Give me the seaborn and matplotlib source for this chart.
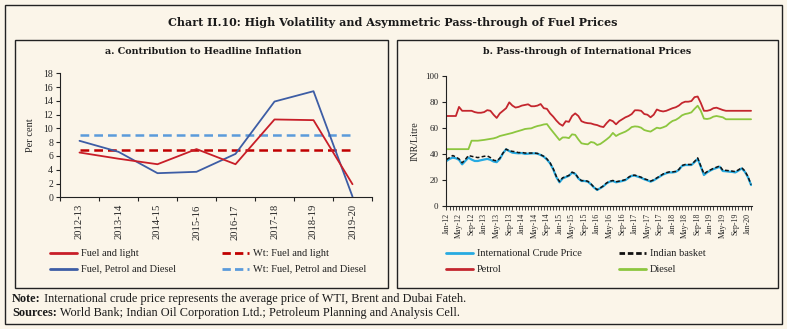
import matplotlib
matplotlib.use("Agg")
import matplotlib.pyplot as plt
import seaborn as sns
import pandas as pd
import numpy as np
from matplotlib.patches import Rectangle
from matplotlib.lines import Line2D

# ---------------- data ----------------
years = ["2012-13", "2013-14", "2014-15", "2015-16", "2016-17", "2017-18", "2018-19", "2019-20"]
fuel_light = [6.5, 5.6, 4.8, 7.0, 4.8, 11.3, 11.2, 1.9]
fuel_petrol_diesel = [8.2, 6.6, 3.5, 3.7, 6.3, 13.9, 15.4, 0.1]
wt_fuel_light = [6.8, 6.8, 6.8, 6.8, 6.8, 6.8, 6.8, 6.8]
wt_fuel_petrol_diesel = [9.05, 9.05, 9.05, 9.05, 9.05, 9.05, 9.05, 9.05]

month_labels = ["Jan-12", "May-12", "Sep-12", "Jan-13", "May-13", "Sep-13", "Jan-14", "May-14",
                "Sep-14", "Jan-15", "May-15", "Sep-15", "Jan-16", "May-16", "Sep-16", "Jan-17",
                "May-17", "Sep-17", "Jan-18", "May-18", "Sep-18", "Jan-19", "May-19", "Sep-19", "Jan-20"]

petrol = [69, 69, 69, 69, 76, 73, 73, 73, 73, 72,
          71.5, 71.5, 72, 73.5, 73, 70, 67.5, 71, 73, 75,
          79.5, 77, 75.5, 76, 77, 77.5, 78, 76.5, 76.5, 77,
          78.2, 75, 74.5, 71, 68.5, 65.5, 63, 61.5, 65, 64.5,
          69, 71, 69, 65, 64, 63.5, 63.3, 62.5, 62, 61,
          60.5, 63.5, 66, 65, 62.6, 65, 66.5, 68, 69, 70.5,
          73.4, 73.4, 73, 70.5, 70, 68, 70, 74, 73, 72.5,
          73, 74, 75, 75.7, 77, 79, 80, 80, 80.5, 83.5,
          84, 79, 73, 73, 73.6, 75, 75.4, 74.5, 73.6, 73,
          73, 73, 73, 73, 73, 73, 73, 73]

diesel = [43.5, 43.5, 43.5, 43.5, 43.5, 43.5, 43.5, 43.5, 50, 50,
          50, 50.3, 50.6, 51, 51.4, 51.8, 52.5, 53.6, 54.2, 54.8,
          55.4, 56, 56.8, 57.5, 58.2, 59, 59.3, 59.5, 60.5, 61.3,
          61.8, 62.5, 62.8, 59.5, 56.5, 53.5, 50.5, 52.5, 52.5, 52,
          54.9, 54.5, 51, 48, 47.5, 47.2, 49, 48.5, 46.7, 47.5,
          49.2, 51, 53, 56, 53.6, 55, 56, 57, 58.5, 60.5,
          61, 60.8, 60, 58.2, 57.5, 57, 58.5, 60, 59.5, 60.3,
          61.3, 63.5, 65.2, 66, 67.5, 69.5, 70.5, 71, 71.8, 74.5,
          76.9, 73, 67, 66.7, 67.2, 68.5, 69, 68.5, 68, 66.5,
          66.5, 66.5, 66.5, 66.5, 66.5, 66.5, 66.5, 66.5]

crude = [34.4, 36, 37, 36.5, 35.3, 31.8, 34.4, 37, 35.5, 34.4,
         34.4, 35, 35.5, 36, 35.3, 34, 33.5, 36, 40.3, 43.4,
         42, 40.8, 40.5, 40.3, 40.5, 39.8, 40, 40.2, 40.3, 40,
         39, 37.7, 35.5, 32.6, 28, 22, 18, 21, 22, 23,
         25.4, 24.5, 21, 19, 19, 18.5, 16.5, 14, 12.1, 13.5,
         15, 17.2, 18.5, 19, 18, 18.5, 19, 19.7, 21.5, 23,
         23.1, 22.3, 21.5, 20.3, 19.5, 18.5, 19.5, 21, 22.5, 24,
         25, 25.6, 25.6, 26, 27.5, 30.5, 31.3, 31.3, 31.3, 33.5,
         36, 30, 23.6, 25.6, 27, 28.2, 29, 30, 26.7, 26.5,
         26.2, 26, 25.6, 27, 28.7, 26.2, 22, 15.9]

indian_basket = [35.5, 37, 38.6, 37.5, 36, 33, 35.5, 38.6, 38, 37.5,
                 37, 37.5, 38, 38.3, 37, 35, 34.5, 36.5, 40.5, 43.5,
                 42.3, 41.8, 41.5, 40.8, 41, 40.5, 40.5, 40.5, 40.5, 40.2,
                 39.2, 38, 36, 33, 28.5, 22.5, 18.5, 21.5, 22.3, 23.3,
                 25.8, 24.8, 21.3, 19.3, 19.3, 18.8, 16.8, 14.2, 12.3, 13.7,
                 15.3, 17.5, 18.8, 19.4, 18.4, 18.9, 19.4, 20.1, 21.9, 23.4,
                 23.5, 22.7, 21.9, 20.7, 19.9, 18.9, 19.9, 21.4, 22.9, 24.4,
                 25.4, 26, 26, 26.4, 27.9, 30.9, 31.7, 31.7, 31.7, 34,
                 36.8, 30.5, 24.5, 26.2, 27.5, 28.7, 29.6, 30.6, 27.3, 27.2,
                 26.9, 26.6, 26.2, 27.6, 29.3, 26.8, 22.5, 16.2]

# ---------------- style ----------------
BG = "#FBF5E9"
W, H = 787, 329
sns.set_theme(style="ticks")
plt.rcParams["font.family"] = ["Liberation Serif", "DejaVu Serif"]
plt.rcParams["axes.facecolor"] = BG
plt.rcParams["figure.facecolor"] = BG

fig = plt.figure(figsize=(W / 100, H / 100), dpi=100)


def fx(px):
    return px / W


def fy(py):
    return 1 - py / H


# borders
fig.patches.append(Rectangle((fx(5), fy(324)), fx(777), (319) / H, transform=fig.transFigure,
                             fill=False, lw=1.0, ec="#222222"))
fig.patches.append(Rectangle((fx(15), fy(288)), fx(373), (248) / H, transform=fig.transFigure,
                             fill=False, lw=1.0, ec="#222222"))
fig.patches.append(Rectangle((fx(397), fy(288)), fx(381), (248) / H, transform=fig.transFigure,
                             fill=False, lw=1.0, ec="#222222"))

fig.text(fx(393), fy(22), "Chart II.10: High Volatility and Asymmetric Pass-through of Fuel Prices",
         ha="center", va="center", fontsize=8.0, fontweight="bold", family="DejaVu Serif", color="#1a1a1a")
fig.text(fx(203), fy(52), "a. Contribution to Headline Inflation", ha="center", va="center",
         fontsize=6.8, fontweight="bold", family="DejaVu Serif", color="#1a1a1a")
fig.text(fx(587), fy(52), "b. Pass-through of International Prices", ha="center", va="center",
         fontsize=6.8, fontweight="bold", family="DejaVu Serif", color="#1a1a1a")

# ---------------- panel a ----------------
ax1 = fig.add_axes([fx(60), fy(197.3), fx(372 - 60), (197.3 - 73.3) / H])
xa = np.arange(len(years))
dfa = pd.DataFrame({"x": xa, "fl": fuel_light, "fpd": fuel_petrol_diesel,
                    "wfl": wt_fuel_light, "wfpd": wt_fuel_petrol_diesel})
RED = "#C81E28"
DBLUE = "#3D5DA5"
LBLUE = "#5B9BDB"
sns.lineplot(data=dfa, x="x", y="wfpd", ax=ax1, color=LBLUE, lw=1.8, linestyle=(0, (3.5, 2)))
sns.lineplot(data=dfa, x="x", y="wfl", ax=ax1, color="#C00000", lw=1.8, linestyle=(0, (3.5, 2)))
sns.lineplot(data=dfa, x="x", y="fpd", ax=ax1, color=DBLUE, lw=1.3)
sns.lineplot(data=dfa, x="x", y="fl", ax=ax1, color=RED, lw=1.3)
ax1.set_xlim(-0.5, 7.5)
ax1.set_ylim(0, 18)
ax1.set_yticks(np.arange(0, 19, 2))
ax1.set_xticks(np.arange(-0.5, 8.0, 1.0))
ax1.set_xticklabels([])
ax1.set_xticks(xa, minor=True)
ax1.set_xticklabels(years, minor=True, rotation=90, fontsize=7.6)
ax1.tick_params(axis="x", which="minor", length=0, pad=5)
ax1.tick_params(axis="x", which="major", length=3, width=0.8, color="#222222")
ax1.tick_params(axis="y", labelsize=7, length=3, width=0.8, pad=2, color="#222222")
ax1.set_xlabel("")
ax1.set_ylabel("Per cent", fontsize=7.5, labelpad=6)
for s in ["top", "right"]:
    ax1.spines[s].set_visible(False)
for s in ["left", "bottom"]:
    ax1.spines[s].set_linewidth(0.8)
    ax1.spines[s].set_color("#222222")

# legend (manual, figure coordinates)
def leg_entry(x0, y0, color, ls, text, lw=2.0):
    fig.lines.append(Line2D([fx(x0), fx(x0 + 27)], [fy(y0), fy(y0)], transform=fig.transFigure,
                            color=color, lw=lw, linestyle=ls))
    fig.text(fx(x0 + 31), fy(y0), text, ha="left", va="center", fontsize=7.5, color="#222222")

leg_entry(50, 253, RED, "-", "Fuel and light")
leg_entry(50, 269, DBLUE, "-", "Fuel, Petrol and Diesel")
leg_entry(222, 253, "#C00000", (0, (3, 1.5)), "Wt: Fuel and light")
leg_entry(222, 269, LBLUE, (0, (3, 1.5)), "Wt: Fuel, Petrol and Diesel")

# ---------------- panel b ----------------
ax2 = fig.add_axes([fx(445.5), fy(205.7), fx(752 - 445.5), (205.7 - 75.7) / H])
mb = np.arange(len(petrol))
dfb = pd.DataFrame({"m": mb, "petrol": petrol, "diesel": diesel, "crude": crude, "basket": indian_basket})
CBLUE = "#27AAE1"
PRED = "#C4262E"
DGREEN = "#8DC63F"
sns.lineplot(data=dfb, x="m", y="petrol", ax=ax2, color=PRED, lw=1.3)
sns.lineplot(data=dfb, x="m", y="diesel", ax=ax2, color=DGREEN, lw=1.3)
sns.lineplot(data=dfb, x="m", y="crude", ax=ax2, color=CBLUE, lw=1.6)
sns.lineplot(data=dfb, x="m", y="basket", ax=ax2, color="#111111", lw=1.1, linestyle=(0, (2.5, 1.5)))
ax2.set_xlim(-0.3, 97.3)
ax2.set_ylim(0, 100)
ax2.set_yticks(np.arange(0, 101, 20))
ax2.set_xticks(mb, minor=True)
ax2.set_xticks(np.arange(0, 97, 4))
ax2.set_xticklabels(month_labels, rotation=90, fontsize=5.7)
ax2.tick_params(axis="x", which="both", length=3, width=0.6, pad=2, color="#222222")
ax2.tick_params(axis="y", labelsize=6.5, length=3, width=0.8, pad=2, color="#222222")
ax2.set_xlabel("")
ax2.set_ylabel("INR/Litre", fontsize=7.2, labelpad=4)
for s in ["top", "right"]:
    ax2.spines[s].set_visible(False)
for s in ["left", "bottom"]:
    ax2.spines[s].set_linewidth(0.8)
    ax2.spines[s].set_color("#222222")

leg_entry(446, 253, CBLUE, "-", "International Crude Price")
leg_entry(446, 269, PRED, "-", "Petrol")
leg_entry(619, 253, "#111111", (0, (2, 1)), "Indian basket")
leg_entry(619, 269, DGREEN, "-", "Diesel")

# ---------------- notes ----------------
renderer = fig.canvas.get_renderer()
for yy, bold, rest in [(299, "Note:", " International crude price represents the average price of WTI, Brent and Dubai Fateh."),
                       (313, "Sources:", " World Bank; Indian Oil Corporation Ltd.; Petroleum Planning and Analysis Cell.")]:
    t = fig.text(fx(12), fy(yy), bold, ha="left", va="center", fontsize=8.8, fontweight="bold", color="#1a1a1a")
    bb = t.get_window_extent(renderer=renderer)
    fig.text(bb.x1 / W, fy(yy), rest, ha="left", va="center", fontsize=8.8, color="#1a1a1a")

fig.savefig("out.png", dpi=100, facecolor=BG)
